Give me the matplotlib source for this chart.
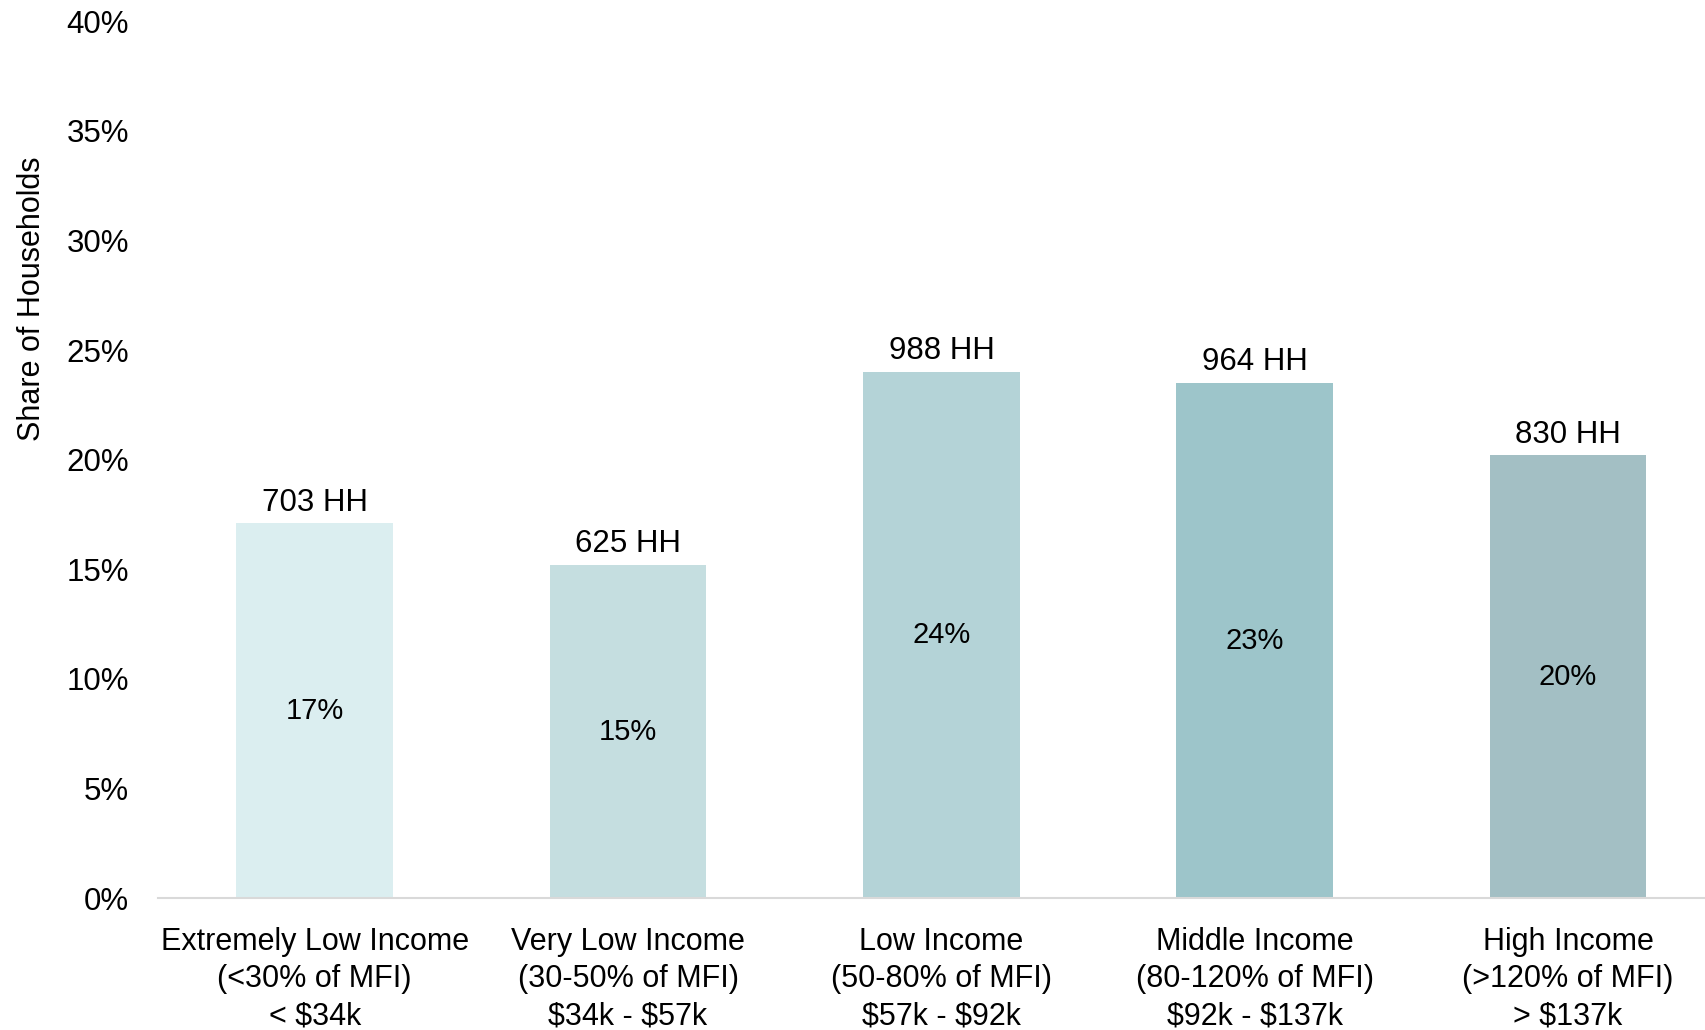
import numpy as np
import matplotlib.pyplot as plt

plt.rcParams['font.family'] = ['Liberation Sans', 'DejaVu Sans']

# data
categories = ['Extremely Low Income\n(<30% of MFI)\n< \\$34k',
              'Very Low Income\n(30-50% of MFI)\n\\$34k - \\$57k',
              'Low Income\n(50-80% of MFI)\n\\$57k - \\$92k',
              'Middle Income\n(80-120% of MFI)\n\\$92k - \\$137k',
              'High Income\n(>120% of MFI)\n> \\$137k']
shares = [17.1, 15.2, 24.0, 23.5, 20.2]
households = [703, 625, 988, 964, 830]
share_labels = ['17%', '15%', '24%', '23%', '20%']
colors = ['#DBEEF0', '#C5DEE0', '#B4D3D7', '#9DC5CA', '#A3BFC4']

fig = plt.figure(figsize=(17.06, 10.3), dpi=100)
ax = fig.add_axes([0.0926, 0.128, 0.9074, 0.8515])

x = np.arange(len(categories))
bars = ax.bar(x, shares, width=0.5, color=colors)

# labels boven en in de balken
for xi, s, hh, lab in zip(x, shares, households, share_labels):
    ax.annotate(f'{hh} HH', (xi, s), xytext=(0, 4), textcoords='offset points',
                ha='center', va='bottom', fontsize=22.5, color='black')
    ax.text(xi, s / 2, lab, ha='center', va='center', fontsize=21, color='black')

ax.set_xlim(-0.5, 4.44)
ax.set_ylim(0, 40)
ax.set_yticks(np.arange(0, 41, 5))
ax.set_yticklabels([f'{v}%' for v in range(0, 41, 5)])
ax.set_xticks(x)
ax.set_xticklabels(categories, fontsize=22, linespacing=1.3)
ax.tick_params(axis='y', length=0, pad=21, labelsize=22.5)
ax.tick_params(axis='x', length=0, pad=21)

ax.set_ylabel('Share of Households', fontsize=22)
ax.yaxis.set_label_coords(-0.072, 0.683)

for side in ['top', 'right', 'left']:
    ax.spines[side].set_visible(False)
ax.spines['bottom'].set_color('#D9D9D9')
ax.spines['bottom'].set_linewidth(1.5)

plt.savefig('out.png', dpi=100)
